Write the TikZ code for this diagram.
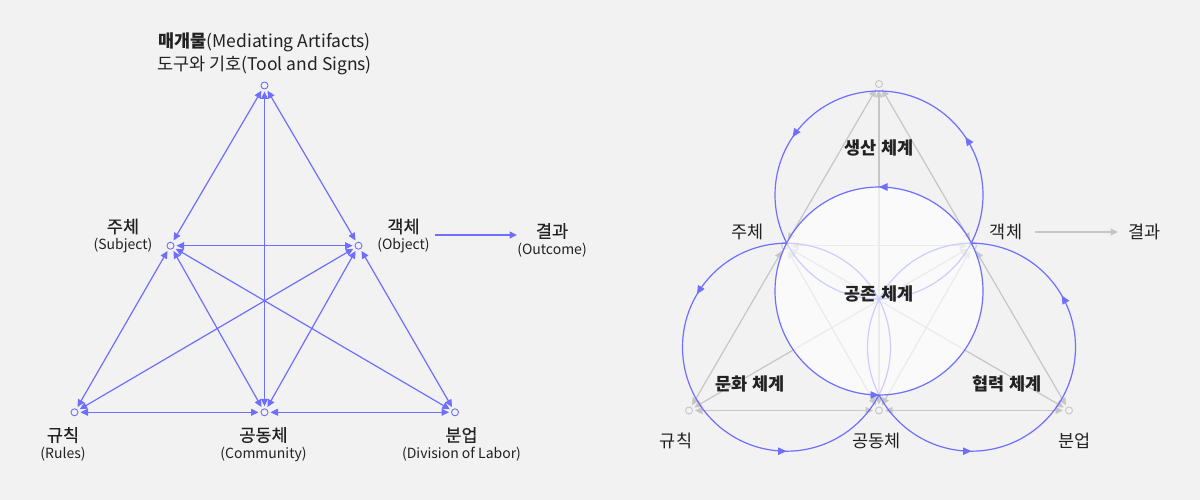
\documentclass[tikz,border=0pt]{standalone}
\usepackage{fontspec}
\setmainfont{Noto Sans CJK KR}
\newfontfamily\krmed{Noto Sans CJK KR}[FakeBold=0.5]
\usetikzlibrary{arrows.meta,decorations.markings}
\definecolor{bg}{HTML}{F2F2F2}
\definecolor{pur}{HTML}{6E6EFF}
\definecolor{gry}{HTML}{C6C6C6}
\definecolor{txt}{HTML}{222222}
\tikzset{
  tip/.tip={Triangle[length=7.5pt,width=7pt]},
  ctip/.tip={Triangle[length=8.5pt,width=7.5pt]},
  vtx/.style={circle, draw=pur, fill=bg, line width=0.9pt, minimum size=7pt, inner sep=0pt, outer sep=2.5pt},
  gvtx/.style={vtx, draw=gry},
  link/.style={draw=pur, line width=1.2pt, tip-tip},
  glink/.style={link, draw=gry},
  one/.style={draw=pur, line width=1.2pt, -tip},
  gone/.style={one, draw=gry},
  kmain/.style={font=\krmed\fontsize{17.5}{20}\selectfont, text=txt, inner sep=0pt},
  kreg/.style={font=\fontsize{17.5}{20}\selectfont, text=txt, inner sep=0pt},
  kbold/.style={font=\bfseries\fontsize{17.5}{20}\selectfont, text=txt, inner sep=0pt},
  esub/.style={font=\fontsize{14}{16}\selectfont, text=txt, inner sep=0pt},
  ring/.style={draw=pur, line width=1.2pt},
}
\begin{document}
\begin{tikzpicture}[x=1pt,y=-1pt]
\fill[bg] (0,0) rectangle (1200,500);
\useasboundingbox (0,0) rectangle (1200,500);

% ---------------- Left diagram ----------------
\node[vtx] (mT) at (264.5,85.5) {};
\node[vtx] (mS) at (170.5,245.7) {};
\node[vtx] (mO) at (358.5,245.7) {};
\node[vtx] (mR) at (74.5,412.3) {};
\node[vtx] (mC) at (264.5,412.3) {};
\node[vtx] (mL) at (455,412.3) {};

\draw[link] (mT) -- (mS);
\draw[link] (mT) -- (mO);
\draw[link] (mT) -- (mC);
\draw[link] (mS) -- (mO);
\draw[link] (mS) -- (mR);
\draw[link] (mS) -- (mC);
\draw[link] (mS) -- (mL);
\draw[link] (mO) -- (mR);
\draw[link] (mO) -- (mC);
\draw[link] (mO) -- (mL);
\draw[link] (mR) -- (mC);
\draw[link] (mC) -- (mL);

\coordinate (oa1) at (435,235);
\coordinate (oa2) at (517,235);
\draw[one] (oa1) -- (oa2);

\node[kreg] (tT1) at (264.5,42) {\textbf{매개물}(Mediating Artifacts)};
\node[kreg] (tT2) at (264.5,65) {도구와 기호(Tool and Signs)};
\node[kmain] (tS1) at (123,226.5) {주체};
\node[esub] (tS2) at (123,245.5) {(Subject)};
\node[kmain] (tO1) at (403.5,226.5) {객체};
\node[esub] (tO2) at (403.5,245.5) {(Object)};
\node[kmain] (tU1) at (552,231) {결과};
\node[esub] (tU2) at (552,250) {(Outcome)};
\node[kmain] (tR1) at (63,435) {규칙};
\node[esub] (tR2) at (63,454) {(Rules)};
\node[kmain] (tC1) at (263.5,435) {공동체};
\node[esub] (tC2) at (263.5,454) {(Community)};
\node[kmain] (tL1) at (461.5,435) {분업};
\node[esub] (tL2) at (461.5,454) {(Division of Labor)};

% ---------------- Right diagram ----------------
\node[gvtx] (gT) at (879,84) {};
\node[gvtx] (gS) at (785,245.7) {};
\node[gvtx] (gO) at (973,245.7) {};
\node[gvtx] (gR) at (689,410.5) {};
\node[gvtx] (gC) at (879,410.5) {};
\node[gvtx] (gL) at (1069,410.5) {};

\draw[glink] (gT) -- (gS);
\draw[glink] (gT) -- (gO);
\draw[glink] (gT) -- (gC);
\draw[glink] (gS) -- (gO);
\draw[glink] (gS) -- (gR);
\draw[glink] (gS) -- (gC);
\draw[glink] (gS) -- (gL);
\draw[glink] (gO) -- (gR);
\draw[glink] (gO) -- (gC);
\draw[glink] (gO) -- (gL);
\draw[glink] (gR) -- (gC);
\draw[glink] (gC) -- (gL);

\coordinate (ga1) at (1035,232);
\coordinate (ga2) at (1118,232);
\draw[gone] (ga1) -- (ga2);

% outer rings (visual counter-clockwise)
\draw[ring, postaction={decorate}, decoration={markings,
   mark=at position 0.094 with {\arrow{ctip}},
   mark=at position 0.406 with {\arrow{ctip}}}]
   (879,195) ++(104,0) arc[start angle=0, end angle=-360, radius=104];
\draw[ring, postaction={decorate}, decoration={markings,
   mark=at position 0.415 with {\arrow{ctip}},
   mark=at position 0.75 with {\arrow{ctip}}}]
   (786.5,347.2) ++(104,0) arc[start angle=0, end angle=-360, radius=104];
\draw[ring, postaction={decorate}, decoration={markings,
   mark=at position 0.083 with {\arrow{ctip}},
   mark=at position 0.75 with {\arrow{ctip}}}]
   (971.5,347.2) ++(104,0) arc[start angle=0, end angle=-360, radius=104];

% central ring
\fill[white, fill opacity=0.65] (879,291) circle[radius=104];
\draw[ring, postaction={decorate}, decoration={markings,
   mark=at position 0.25 with {\arrow{ctip}},
   mark=at position 0.75 with {\arrow{ctip}}}]
   (879,291) ++(104,0) arc[start angle=0, end angle=-360, radius=104];

\node[kreg] (rS) at (747.5,232) {주체};
\node[kreg] (rO) at (1006,232) {객체};
\node[kreg] (rU) at (1144.5,232) {결과};
\node[kreg] (rR) at (676,441) {규칙};
\node[kreg] (rC) at (876.5,441) {공동체};
\node[kreg] (rL) at (1074.5,441) {분업};

\node[kbold] (sP) at (879,148) {생산 체계};
\node[kbold] (sE) at (879,294) {공존 체계};
\node[kbold] (sK) at (750,384) {문화 체계};
\node[kbold] (sH) at (1007,384) {협력 체계};
\end{tikzpicture}
\end{document}
